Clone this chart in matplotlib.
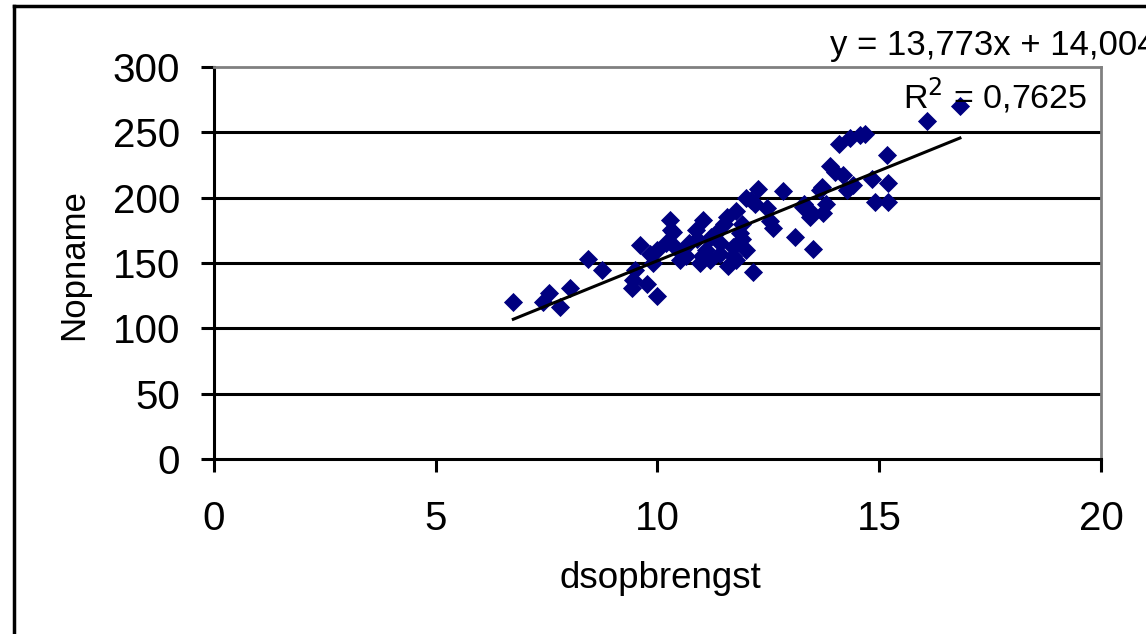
import numpy as np
import matplotlib.pyplot as plt
from matplotlib.lines import Line2D

plt.rcParams['font.family'] = ['Liberation Sans', 'DejaVu Sans']

# data
dsopbrengst = [6.75, 7.42, 7.56, 7.8, 8.03, 8.44, 8.74, 9.42, 9.45, 9.6,
               9.76, 9.98, 9.83, 9.9, 10.0, 10.28, 10.35, 10.2, 10.4, 10.58,
               10.65, 10.5, 10.96, 11.03, 10.88, 11.1, 11.18, 11.33, 11.4, 11.4,
               11.56, 11.7, 11.7, 11.78, 11.78, 11.86, 12.0, 12.1, 12.16, 12.27,
               12.46, 12.54, 12.61, 12.84, 13.1, 13.29, 13.44, 13.44, 13.51, 13.66,
               13.74, 13.7, 13.9, 14.0, 14.1, 14.34, 14.57, 14.68, 14.19, 14.27,
               14.83, 14.9, 15.17, 15.2, 15.2, 16.07, 16.82, 11.9, 11.2, 10.7,
               11.5, 12.2, 11.0, 10.3, 9.5, 11.9, 11.6, 12.0, 13.3, 13.8,
               10.9, 14.4]
nopname = [120, 120, 127, 116, 131, 153, 145, 131, 137, 164,
           134, 125, 157, 150, 160, 183, 174, 165, 162, 157,
           155, 152, 150, 183, 175, 160, 152, 173, 165, 157,
           185, 162, 155, 190, 152, 173, 200, 198, 143, 207,
           192, 182, 177, 205, 170, 193, 190, 185, 161, 206,
           188, 208, 224, 220, 241, 246, 248, 249, 217, 206,
           214, 197, 233, 211, 197, 259, 270, 180, 170, 165,
           180, 195, 155, 175, 145, 168, 148, 160, 195, 195,
           168, 210]

slope = 13.773
intercept = 14.004
eq_label = "y = 13,773x + 14,004"
r2_label = "R$^2$ = 0,7625"

fig = plt.figure(figsize=(11.46, 6.34), dpi=100)
ax = fig.add_axes([0.1867, 0.276, 0.774, 0.6183])

ax.scatter(dsopbrengst, nopname, marker='D', s=95, color='#000080', zorder=3, linewidths=0)

xs = np.array([min(dsopbrengst), max(dsopbrengst)])
ax.plot(xs, slope * xs + intercept, color='black', lw=2.2, zorder=4)

ax.set_xlim(0, 20)
ax.set_ylim(0, 300)
ax.set_xticks([0, 5, 10, 15, 20])
ax.set_yticks([0, 50, 100, 150, 200, 250, 300])
for yv in [50, 100, 150, 200, 250]:
    ax.axhline(yv, color='black', lw=2.2, zorder=1)

for s in ['top', 'right']:
    ax.spines[s].set_color('#808080')
    ax.spines[s].set_linewidth(2)
for s in ['left', 'bottom']:
    ax.spines[s].set_color('black')
    ax.spines[s].set_linewidth(2.2)

ax.tick_params(axis='both', direction='out', length=9.5, width=2.2, labelsize=29)
ax.tick_params(axis='y', pad=15)
ax.tick_params(axis='x', pad=20)

ax.set_xlabel("dsopbrengst", fontsize=26.5)
ax.set_ylabel("Nopname", fontsize=25)
ax.xaxis.set_label_coords(0.503, -0.26)
ax.yaxis.set_label_coords(-0.14, 0.495)

ax.text(13.89, 316.8, eq_label, fontsize=25, va='center', ha='left', clip_on=False)
ax.text(15.54, 278.6, r2_label, fontsize=24.5, va='center', ha='left', clip_on=False)

# outer chart frame (only left and top visible)
fig.add_artist(Line2D([14 / 1146, 14 / 1146], [0, 1 - 6 / 634], color='black', lw=2.5))
fig.add_artist(Line2D([14 / 1146, 1], [1 - 6 / 634, 1 - 6 / 634], color='black', lw=2.5))

fig.savefig("out.png", dpi=100)
